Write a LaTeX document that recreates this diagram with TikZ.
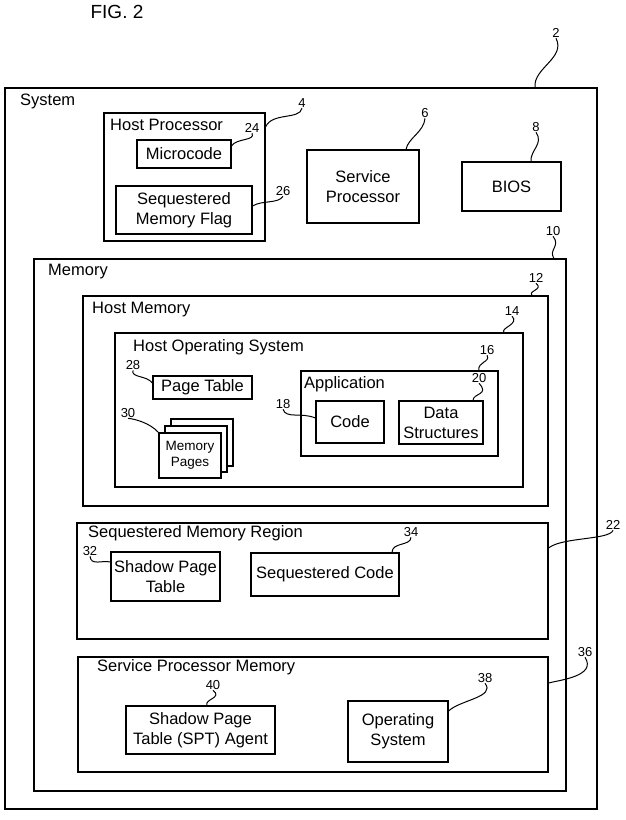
\documentclass[tikz,border=0pt]{standalone}
\usepackage{fontspec}
\setmainfont{Liberation Sans}
\tikzset{
 bx/.style={draw, line width=1.1pt, inner sep=0pt, align=center, font=\fontsize{16.5}{20}\selectfont},
 pg/.style={draw, line width=1.1pt, fill=white, inner sep=0pt, align=center, font=\fontsize{13.5}{16}\selectfont},
 ttl/.style={anchor=west, inner sep=0pt, font=\fontsize{16.5}{20}\selectfont},
 num/.style={inner sep=0.5pt, font=\fontsize{13}{14}\selectfont},
 lead/.style={line width=1pt},
}
% \bxat[style]{name}{x1}{y1}{x2}{y2}{text}
\newcommand\bxat[7][bx]{\node[#1, minimum width={#5-#3}, minimum height={#6-#4}] (#2) at ({(#3+#5)/2},{(#4+#6)/2}) {#7};}
\begin{document}
\begin{tikzpicture}[x=1pt,y=-1pt]
\useasboundingbox (0,0) rectangle (626,820);
\node[font=\fontsize{19}{22}\selectfont] (fig) at (117,12) {FIG. 2};
% boxes
\bxat{sys}{5}{88}{597}{809}{}
\node[ttl] (tsys) at (20,101) {System};
\bxat{hp}{104}{113}{265}{241}{}
\node[ttl] (thp) at (110,125) {Host Processor};
\bxat{mc}{137}{140}{231}{168}{Microcode}
\bxat{smf}{116}{186}{252}{234}{Sequestered\\Memory Flag}
\bxat{sp}{307}{150}{419}{223}{Service\\Processor}
\bxat{bios}{462}{162}{561}{211}{BIOS}
\bxat{mem}{34}{259}{566}{791}{}
\node[ttl] (tmem) at (48,272) {Memory};
\bxat{hm}{83}{296}{548}{506}{}
\node[ttl] (thm) at (92,310) {Host Memory};
\bxat{hos}{115}{333}{523}{487}{}
\node[ttl] (thos) at (133,347) {Host Operating System};
\bxat{pt}{153}{376}{252}{399}{Page Table}
\bxat[pg]{pg3}{171}{419}{233}{466}{}
\bxat[pg]{pg2}{165}{426}{227}{472}{}
\bxat[pg]{pg1}{159}{433}{221}{478}{Memory\\Pages}
\bxat{app}{301}{371}{498}{456}{}
\node[ttl] (tapp) at (304,384) {Application};
\bxat{code}{316}{401}{384}{443}{Code}
\bxat{ds}{399}{401}{483}{444}{Data\\Structures}
\bxat{smr}{77}{523}{548}{639}{}
\node[ttl] (tsmr) at (88,533) {Sequestered Memory Region};
\bxat{spt}{111}{552}{220}{601}{Shadow Page\\Table}
\bxat{sc}{251}{553}{399}{596}{Sequestered Code}
\bxat{spm}{78}{657}{548}{772}{}
\node[ttl] (tspm) at (97,667) {Service Processor Memory};
\bxat{agent}{126}{706}{275}{754}{Shadow Page\\Table (SPT) Agent}
\bxat{os}{348}{701}{448}{762}{Operating\\System}
% reference numerals
\node[num] (n2) at (556,33) {2};
\node[num] (n4) at (302,103) {4};
\node[num] (n6) at (425,113) {6};
\node[num] (n8) at (536,127) {8};
\node[num] (n24) at (252,128) {24};
\node[num] (n26) at (283,191) {26};
\node[num] (n10) at (553,231) {10};
\node[num] (n12) at (536,278) {12};
\node[num] (n14) at (512,311) {14};
\node[num] (n16) at (487,350) {16};
\node[num] (n20) at (479,378) {20};
\node[num] (n28) at (133,365) {28};
\node[num] (n30) at (128,413) {30};
\node[num] (n18) at (283,404) {18};
\node[num] (n32) at (90,551) {32};
\node[num] (n34) at (411,532) {34};
\node[num] (n22) at (613,525) {22};
\node[num] (n36) at (585,652) {36};
\node[num] (n40) at (213,685) {40};
\node[num] (n38) at (485,678) {38};
% leaders
\draw[lead] (n2.south) .. controls (566,58) and (533,68) .. (535,0 |- sys.north);
\draw[lead] (n4.south) .. controls (300,120) and (272,112) .. (0,127 -| hp.east);
\draw[lead] (n6.south) .. controls (424,132) and (408,138) .. (406,0 |- sp.north);
\draw[lead] (n8.south) .. controls (544,144) and (530,150) .. (531,0 |- bios.north);
\draw[lead] (n24.south) .. controls (256,141) and (236,138) .. (0,146 -| mc.east);
\draw[lead] (n26.south) .. controls (278,204) and (262,200) .. (0,206 -| smf.east);
\draw[lead] (n10.south) .. controls (561,246) and (548,250) .. (554,0 |- mem.north);
\draw[lead] (n12.south) .. controls (544,290) and (528,290) .. (532,0 |- hm.north);
\draw[lead] (n14.south) .. controls (520,324) and (500,328) .. (504,0 |- hos.north);
\draw[lead] (n16.south) .. controls (491,362) and (477,362) .. (479,0 |- app.north);
\draw[lead] (n20.south) .. controls (490,395) and (473,393) .. (473,0 |- ds.north);
\draw[lead] (n28.south) .. controls (131,378) and (146,375) .. (0,383 -| pt.west);
\draw[lead] (n30.south) .. controls (135,419) and (150,423) .. (pg1.north west);
\draw[lead] (n18.south) .. controls (286,419) and (301,412) .. (0,418 -| code.west);
\draw[lead] (n32.south) .. controls (91,566) and (102,560) .. (0,562 -| spt.west);
\draw[lead] (n34.south) .. controls (411,546) and (392,542) .. (392,0 |- sc.north);
\draw[lead] (n22.south) .. controls (610,540) and (562,537) .. (0,548 -| smr.east);
\draw[lead] (n36.south) .. controls (597,676) and (560,680) .. (0,683 -| spm.east);
\draw[lead] (n40.south) .. controls (223,698) and (204,699) .. (207,0 |- agent.north);
\draw[lead] (n38.south) .. controls (496,697) and (460,700) .. (0,711 -| os.east);
\end{tikzpicture}
\end{document}
